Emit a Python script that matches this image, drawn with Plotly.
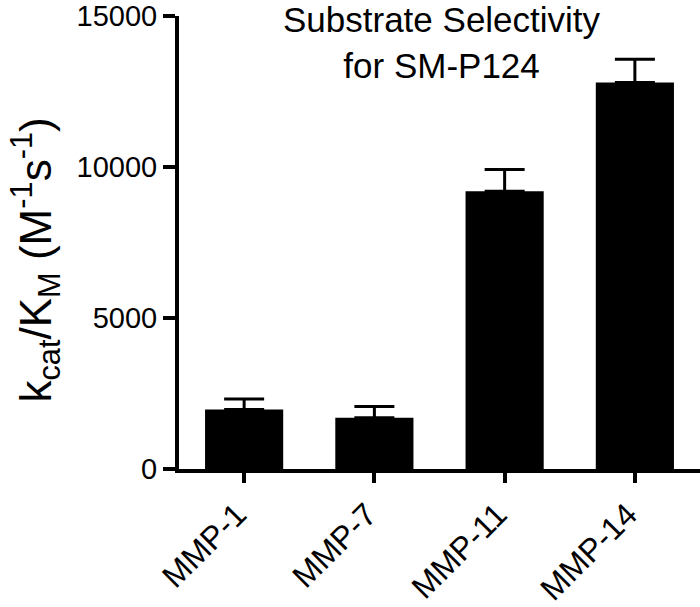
import plotly.graph_objects as go

categories = ["MMP-1", "MMP-7", "MMP-11", "MMP-14"]
values = [1970, 1700, 9200, 12800]
errors = [350, 370, 720, 770]
y_ticks = [0, 5000, 10000, 15000]

FONT = "Arial, Liberation Sans, Helvetica, sans-serif"

fig = go.Figure()
fig.add_trace(go.Bar(
    x=categories, y=values,
    marker=dict(color="black", line=dict(width=0)),
    width=0.6,
    error_y=dict(type="data", array=errors, arrayminus=[0] * len(errors),
                 symmetric=False, color="black", thickness=3, width=20),
))

fig.update_layout(
    width=700, height=607,
    margin=dict(l=179, r=0, t=16, b=138, autoexpand=False),
    plot_bgcolor="white", paper_bgcolor="white",
    showlegend=False,
    font=dict(family=FONT, color="black", size=30),
)
fig.update_xaxes(
    range=[-0.5, 3.5], automargin=False,
    showline=True, linecolor="black", linewidth=4,
    ticks="outside", ticklen=10, tickwidth=4, tickcolor="black",
    tickangle=-45, tickfont=dict(size=32, family=FONT),
    ticklabelshift=-7,
    showgrid=False, zeroline=False,
)
fig.update_yaxes(
    range=[0, 15000], automargin=False,
    tickvals=y_ticks, ticktext=[str(v) for v in y_ticks],
    showline=True, linecolor="black", linewidth=4,
    ticks="outside", ticklen=12, tickwidth=4, tickcolor="black",
    tickfont=dict(size=29, family=FONT),
    ticklabeloverflow="allow",
    showgrid=False, zeroline=False,
)
# y-axis title (rotated annotation, sitting a little below the plot centre like the reference)
fig.add_annotation(
    text="k<sub>cat</sub>/K<sub>M</sub> (M<sup>-1</sup>s<sup>-1</sup>)",
    xref="paper", yref="paper", x=0, y=0.46,
    xanchor="center", yanchor="middle", xshift=-143,
    textangle=-90, showarrow=False,
    font=dict(size=44, family=FONT, color="black"),
)
fig.add_annotation(
    text="Substrate Selectivity<br>for SM-P124",
    xref="paper", yref="paper", x=0.505, y=1.04,
    xanchor="center", yanchor="top", showarrow=False,
    font=dict(size=35, family=FONT, color="black"),
)
fig.write_html("out.html", post_script="document.body.style.margin='0';",
               config={"displayModeBar": False})
